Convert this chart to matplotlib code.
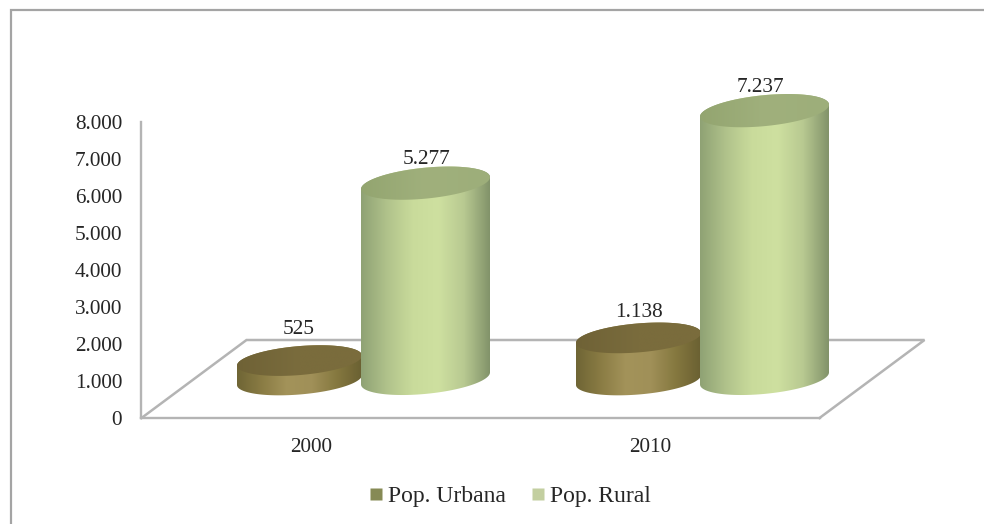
import numpy as np
import matplotlib
matplotlib.use("Agg")
import matplotlib.pyplot as plt
from matplotlib.colors import LinearSegmentedColormap as LSC
from matplotlib.lines import Line2D
from matplotlib.patches import Polygon

categories = ["2000", "2010"]
series_names = ["Pop. Urbana", "Pop. Rural"]
urbana = [525, 1138]
rural = [5277, 7237]
value_labels = {"urbana": ["525", "1.138"], "rural": ["5.277", "7.237"]}
y_ticks = [0, 1000, 2000, 3000, 4000, 5000, 6000, 7000, 8000]
y_tick_labels = ["0", "1.000", "2.000", "3.000", "4.000", "5.000", "6.000", "7.000", "8.000"]

W, H = 984, 524
PX_X = 339.0      # pixels per category
PX_Y = 0.037      # pixels per value unit
plt.rcParams["font.family"] = ["Liberation Serif", "DejaVu Serif"]
TEXT = "#262626"
GREY = "#b4b4b4"

fig = plt.figure(figsize=(W / 100, H / 100), dpi=100, facecolor="white")
ax = fig.add_axes([0, 0, 1, 1], facecolor="none")
xlim = (-311 / PX_X, (W - 311) / PX_X)
ylim = ((418 - H) / PX_Y, 418 / PX_Y)

# outer frame: only the top and left edges are visible in the picture
fig.add_artist(Line2D([11 / W, 11 / W, 1], [0, 1 - 10 / H, 1 - 10 / H], transform=fig.transFigure,
                      color="#a4a4a4", lw=1.6, solid_joinstyle="miter"))

# floor
dx, dy = 105 / PX_X, 78 / PX_Y
ax.plot([-0.5, -0.5 + dx, 1.5 + dx, 1.5], [0, dy, dy, 0], color=GREY, lw=1.8, zorder=1,
        solid_joinstyle="miter")

side_u = LSC.from_list("su", ["#6f6535", "#8a7c44", "#a3935a", "#a09058", "#85783f", "#6a6032"])
top_u = LSC.from_list("tu", ["#6f6236", "#7a6c3d", "#7a6c3c"])
side_r = LSC.from_list("sr", ["#8fa274", "#b0c28b", "#c9db9b", "#cee0a0", "#b8c991", "#82936a"])
top_r = LSC.from_list("tr", ["#93a570", "#a0b07c", "#9dae7a"])
grad = np.linspace(0, 1, 256)[None, :]


def fill_grad(poly, cmap, z, x0, x1, y0, y1):
    im = ax.imshow(grad, cmap=cmap, extent=(x0, x1, y0, y1), aspect="auto", zorder=z, interpolation="bilinear")
    im.set_clip_path(Polygon(poly, closed=True, transform=ax.transData, fc="none", ec="none"))


def cylinder(cat, value, label, off_px, a_px, b_px, s_px, base_px, side, top, z, lab_off):
    cx = cat + off_px / PX_X
    a, b, s = a_px / PX_X, b_px / PX_Y, s_px / PX_Y
    y0 = base_px / PX_Y
    y1 = y0 + value
    lo = np.linspace(np.pi, 2 * np.pi, 80)
    up = np.linspace(0, np.pi, 80)
    all_t = np.linspace(0, 2 * np.pi, 160)
    ell = lambda t, yc: np.column_stack([cx + a * np.cos(t), yc + b * np.sin(t) + s * np.cos(t)])
    body = np.vstack([ell(lo, y0), ell(up, y1)])
    ext = 1.2 * np.hypot(b, s)
    fill_grad(body, side, z, cx - a, cx + a, y0 - ext, y1 + ext)
    fill_grad(ell(all_t, y1), top, z + 0.1, cx - a, cx + a, y1 - ext, y1 + ext)
    ax.annotate(label, (cx, y1), xytext=lab_off, textcoords="offset points", ha="center", va="center",
                fontsize=15.3, color=TEXT, zorder=10)


urban_label_offsets = [(-0.7, 22.2), (0.0, 18.6)]
rural_label_offsets = [(1.0, 17.1), (-3.0, 16.8)]
for i in range(len(categories)):
    cylinder(i, urbana[i], value_labels["urbana"][i], -11.5, 62.5, 14.5, 5, 38, side_u, top_u, 3,
             urban_label_offsets[i])
for i in range(len(categories)):
    cylinder(i, rural[i], value_labels["rural"][i], 114.5, 64.5, 15.5, 6, 39.6, side_r, top_r, 5,
             rural_label_offsets[i])

ax.set_xlim(*xlim)
ax.set_ylim(*ylim)
ax.set_xticks(range(len(categories)), categories)
ax.set_yticks(y_ticks, y_tick_labels)
for name in ("top", "right"):
    ax.spines[name].set_visible(False)
ax.spines["left"].set_position(("data", -0.5))
ax.spines["left"].set_bounds(0, 8000)
ax.spines["bottom"].set_position(("data", 0))
ax.spines["bottom"].set_bounds(-0.5, 1.5)
for name in ("left", "bottom"):
    ax.spines[name].set_color(GREY)
    ax.spines[name].set_linewidth(1.7)
    ax.spines[name].set_zorder(1)
ax.tick_params(axis="y", length=0, pad=14, labelsize=15.3, labelcolor=TEXT)
ax.tick_params(axis="x", length=0, pad=14.5, labelsize=15.3, labelcolor=TEXT)

handles = [Line2D([], [], ls="none", marker="s", ms=8.5, mec="none", mfc=c) for c in ("#868a55", "#c3cfa0")]
ax.legend(handles, series_names, loc="center", bbox_to_anchor=(0.5161, 1 - 496 / H), ncol=2, frameon=False,
          fontsize=17, handletextpad=0.0, columnspacing=0.87, labelcolor=TEXT, handlelength=1.0)

fig.savefig("out.png", dpi=100)
